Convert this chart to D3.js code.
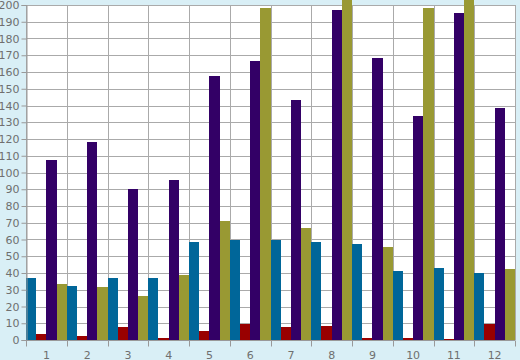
<!DOCTYPE html>
<html><head><meta charset="utf-8">
<script src="https://cdn.jsdelivr.net/npm/d3@7"></script>
<style>body{margin:0;background:#d9eff6;}svg{display:block;}</style>
</head><body>
<svg id="c" width="520" height="360"></svg>
<script>
const categories = ["1","2","3","4","5","6","7","8","9","10","11","12"];
const seriesNames = ["teal","red","purple","olive"];
const tealValues   = [37, 32, 37, 37, 58.5, 60, 59.7, 58.5, 57.3, 41.2, 43, 40];
const redValues    = [3.6, 2.4, 7.8, 1.2, 5.4, 9.6, 7.8, 8.4, 1.2, 1.2, 0.5, 9.6];
const purpleValues = [107.5, 118, 90, 95.5, 157.6, 166.6, 143.3, 197, 168.4, 133.7, 195.2, 138.5];
const oliveValues  = [33.4, 31.6, 26.3, 38.8, 71, 198.2, 67, 215, 55.5, 198.2, 215, 42.4];
const yTicks = d3.range(0, 201, 10);
const colors = ["#006699", "#990000", "#330066", "#999933"];
const series = [tealValues, redValues, purpleValues, oliveValues];

const svg = d3.select("#c");
const L = 26, R = 515, T = 5, B = 340;
const x = d3.scaleBand().domain(categories).range([L, R]).padding(0);
const xi = d3.scaleBand().domain(seriesNames).range([0, x.bandwidth()]).padding(0);
const y = d3.scaleLinear().domain([0, 200]).range([B, T]);

svg.append("rect").attr("x", L).attr("y", T).attr("width", R - L).attr("height", B - T).attr("fill", "#fff");

// horizontal grid
svg.append("g").selectAll("line").data(yTicks).join("line")
  .attr("x1", L).attr("x2", R).attr("y1", d => Math.round(y(d)) + 0.5).attr("y2", d => Math.round(y(d)) + 0.5)
  .attr("stroke", "#aaa").attr("stroke-width", 1);
// vertical grid at band boundaries
const bounds = categories.map(c => x(c)).concat([R]);
svg.append("g").selectAll("line").data(bounds).join("line")
  .attr("x1", d => Math.round(d) + 0.5).attr("x2", d => Math.round(d) + 0.5)
  .attr("y1", T).attr("y2", B)
  .attr("stroke", "#aaa").attr("stroke-width", 1);

// bars
const g = svg.append("g");
categories.forEach((c, i) => {
  series.forEach((s, k) => {
    g.append("rect")
      .attr("x", x(c) + xi(seriesNames[k]))
      .attr("width", xi.bandwidth())
      .attr("y", y(s[i]))
      .attr("height", B - y(s[i]))
      .attr("fill", colors[k])
      .attr("shape-rendering", "crispEdges");
  });
});

// y axis
const yAxis = d3.axisLeft(y).tickValues(yTicks).tickSize(5).tickPadding(2);
const ya = svg.append("g").attr("transform", `translate(${L + 0.5},0)`).call(yAxis);
ya.select(".domain").attr("stroke", "#999");
ya.selectAll(".tick line").attr("stroke", "#999");
ya.selectAll("text").attr("fill", "#6f6f6f").style("font-family", "DejaVu Sans, sans-serif").style("font-size", "11px");

// x axis
const xb = svg.append("g").attr("transform", `translate(0,${B + 0.5})`);
xb.append("line").attr("x1", L).attr("x2", R).attr("stroke", "#999");
xb.selectAll("line.t").data(bounds).join("line").attr("class", "t")
  .attr("x1", d => Math.round(d) + 0.5).attr("x2", d => Math.round(d) + 0.5)
  .attr("y1", 0).attr("y2", 6).attr("stroke", "#999");
xb.selectAll("text").data(categories).join("text")
  .attr("x", d => x(d) + x.bandwidth() / 2)
  .attr("y", 18)
  .attr("text-anchor", "middle")
  .attr("fill", "#6f6f6f")
  .style("font-family", "DejaVu Sans, sans-serif").style("font-size", "11px")
  .text(d => d);
</script>
</body></html>
